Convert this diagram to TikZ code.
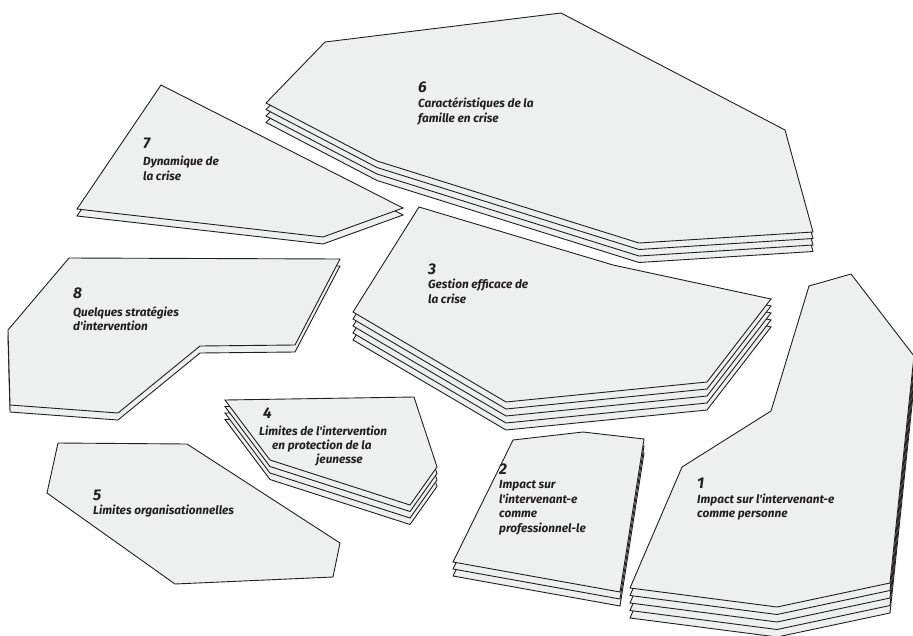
\documentclass[tikz,border=0pt]{standalone}
\usepackage{fontspec}
\newfontfamily\lblfont{Fira Sans}
\definecolor{sheetfill}{HTML}{EEEFEF}
\definecolor{ink}{HTML}{231F20}
\tikzset{
  sheetstyle/.style={draw=ink, fill=sheetfill, line width=0.9pt, line join=miter},
  numlbl/.style={anchor=base west, inner sep=0pt, text=ink, font=\lblfont\bfseries\itshape\fontsize{15.5}{15}\selectfont},
  txtlbl/.style={anchor=base west, inner sep=0pt, text=ink, font=\lblfont\bfseries\itshape\fontsize{11.8}{14}\selectfont}
}
\newcommand\sheetstack[3]{%
  \foreach \k in {#1,...,1}{\draw[sheetstyle, shift={(0,\k*#2)}] #3 -- cycle;}
  \draw[sheetstyle] #3 -- cycle;}
\begin{document}
\begin{tikzpicture}[x=1pt, y=-1pt]
\useasboundingbox (0,0) rectangle (913,635);
% shape 6
\sheetstack{3}{6.5}{(325,42) -- (561,13) -- (785,130) -- (813,232) -- (639,243) -- (377,161) -- (266,103)}
\node[numlbl] (n6) at (418,92.7) {6};
\node[txtlbl] (t6a) at (418,107.7) {Caractéristiques de la};
\node[txtlbl] (t6b) at (418,122.7) {famille en crise};
% shape 7
\sheetstack{1}{7}{(161,85) -- (403,208) -- (323,237) -- (77,209)}
\node[numlbl] (n7) at (143,148) {7};
\node[txtlbl] (t7a) at (143,165) {Dynamique de};
\node[txtlbl] (t7b) at (143,180) {la crise};
% shape 8
\sheetstack{1}{7}{(69,258) -- (340,259) -- (295,345) -- (200,346) -- (118,413) -- (10,405) -- (8,330)}
\node[numlbl] (n8) at (73,298) {8};
\node[txtlbl] (t8a) at (73,316) {Quelques stratégies};
\node[txtlbl] (t8b) at (73,330) {d'intervention};
% shape 3
\sheetstack{4}{7}{(419,207) -- (613,265) -- (771,299) -- (707,382) -- (506,402) -- (353,312)}
\node[numlbl] (n3) at (428,274) {3};
\node[txtlbl] (t3a) at (428,288.5) {Gestion efficace de};
\node[txtlbl] (t3b) at (428,303) {la crise};
% shape 1
\sheetstack{4}{7.5}{(809,286) -- (851,274) -- (914,356) -- (890,583) -- (777,607) -- (630,588) -- (682,467) -- (771,411)}
\node[numlbl] (n1) at (697,488) {1};
\node[txtlbl] (t1a) at (697,503) {Impact sur l'intervenant-e};
\node[txtlbl] (t1b) at (697,517.5) {comme personne};
% shape 2
\sheetstack{2}{7}{(513,440) -- (583,432) -- (644,439) -- (620,592) -- (453,562)}
\node[numlbl] (n2) at (499,474) {2};
\node[txtlbl] (t2a) at (499,488.5) {Impact sur};
\node[txtlbl] (t2b) at (499,503) {l'intervenant-e};
\node[txtlbl] (t2c) at (499,517.5) {comme};
\node[txtlbl] (t2d) at (499,532) {professionnel-le};
% shape 4
\sheetstack{3}{6.5}{(225,400) -- (414,397) -- (437,467) -- (410,505) -- (270,460)}
\node[numlbl] (n4) at (263,418) {4};
\node[txtlbl] (t4a) at (259,435) {Limites de l'intervention};
\node[txtlbl] (t4b) at (272,449.5) {en protection de la};
\node[txtlbl] (t4c) at (316,463.5) {jeunesse};
% shape 5
\draw[sheetstyle] (58,443) -- (187,444) -- (340,543) -- (333,577) -- (175,584) -- (47,493) -- cycle;
\node[numlbl] (n5) at (93,500) {5};
\node[txtlbl] (t5a) at (93,514) {Limites organisationnelles};
\end{tikzpicture}
\end{document}
